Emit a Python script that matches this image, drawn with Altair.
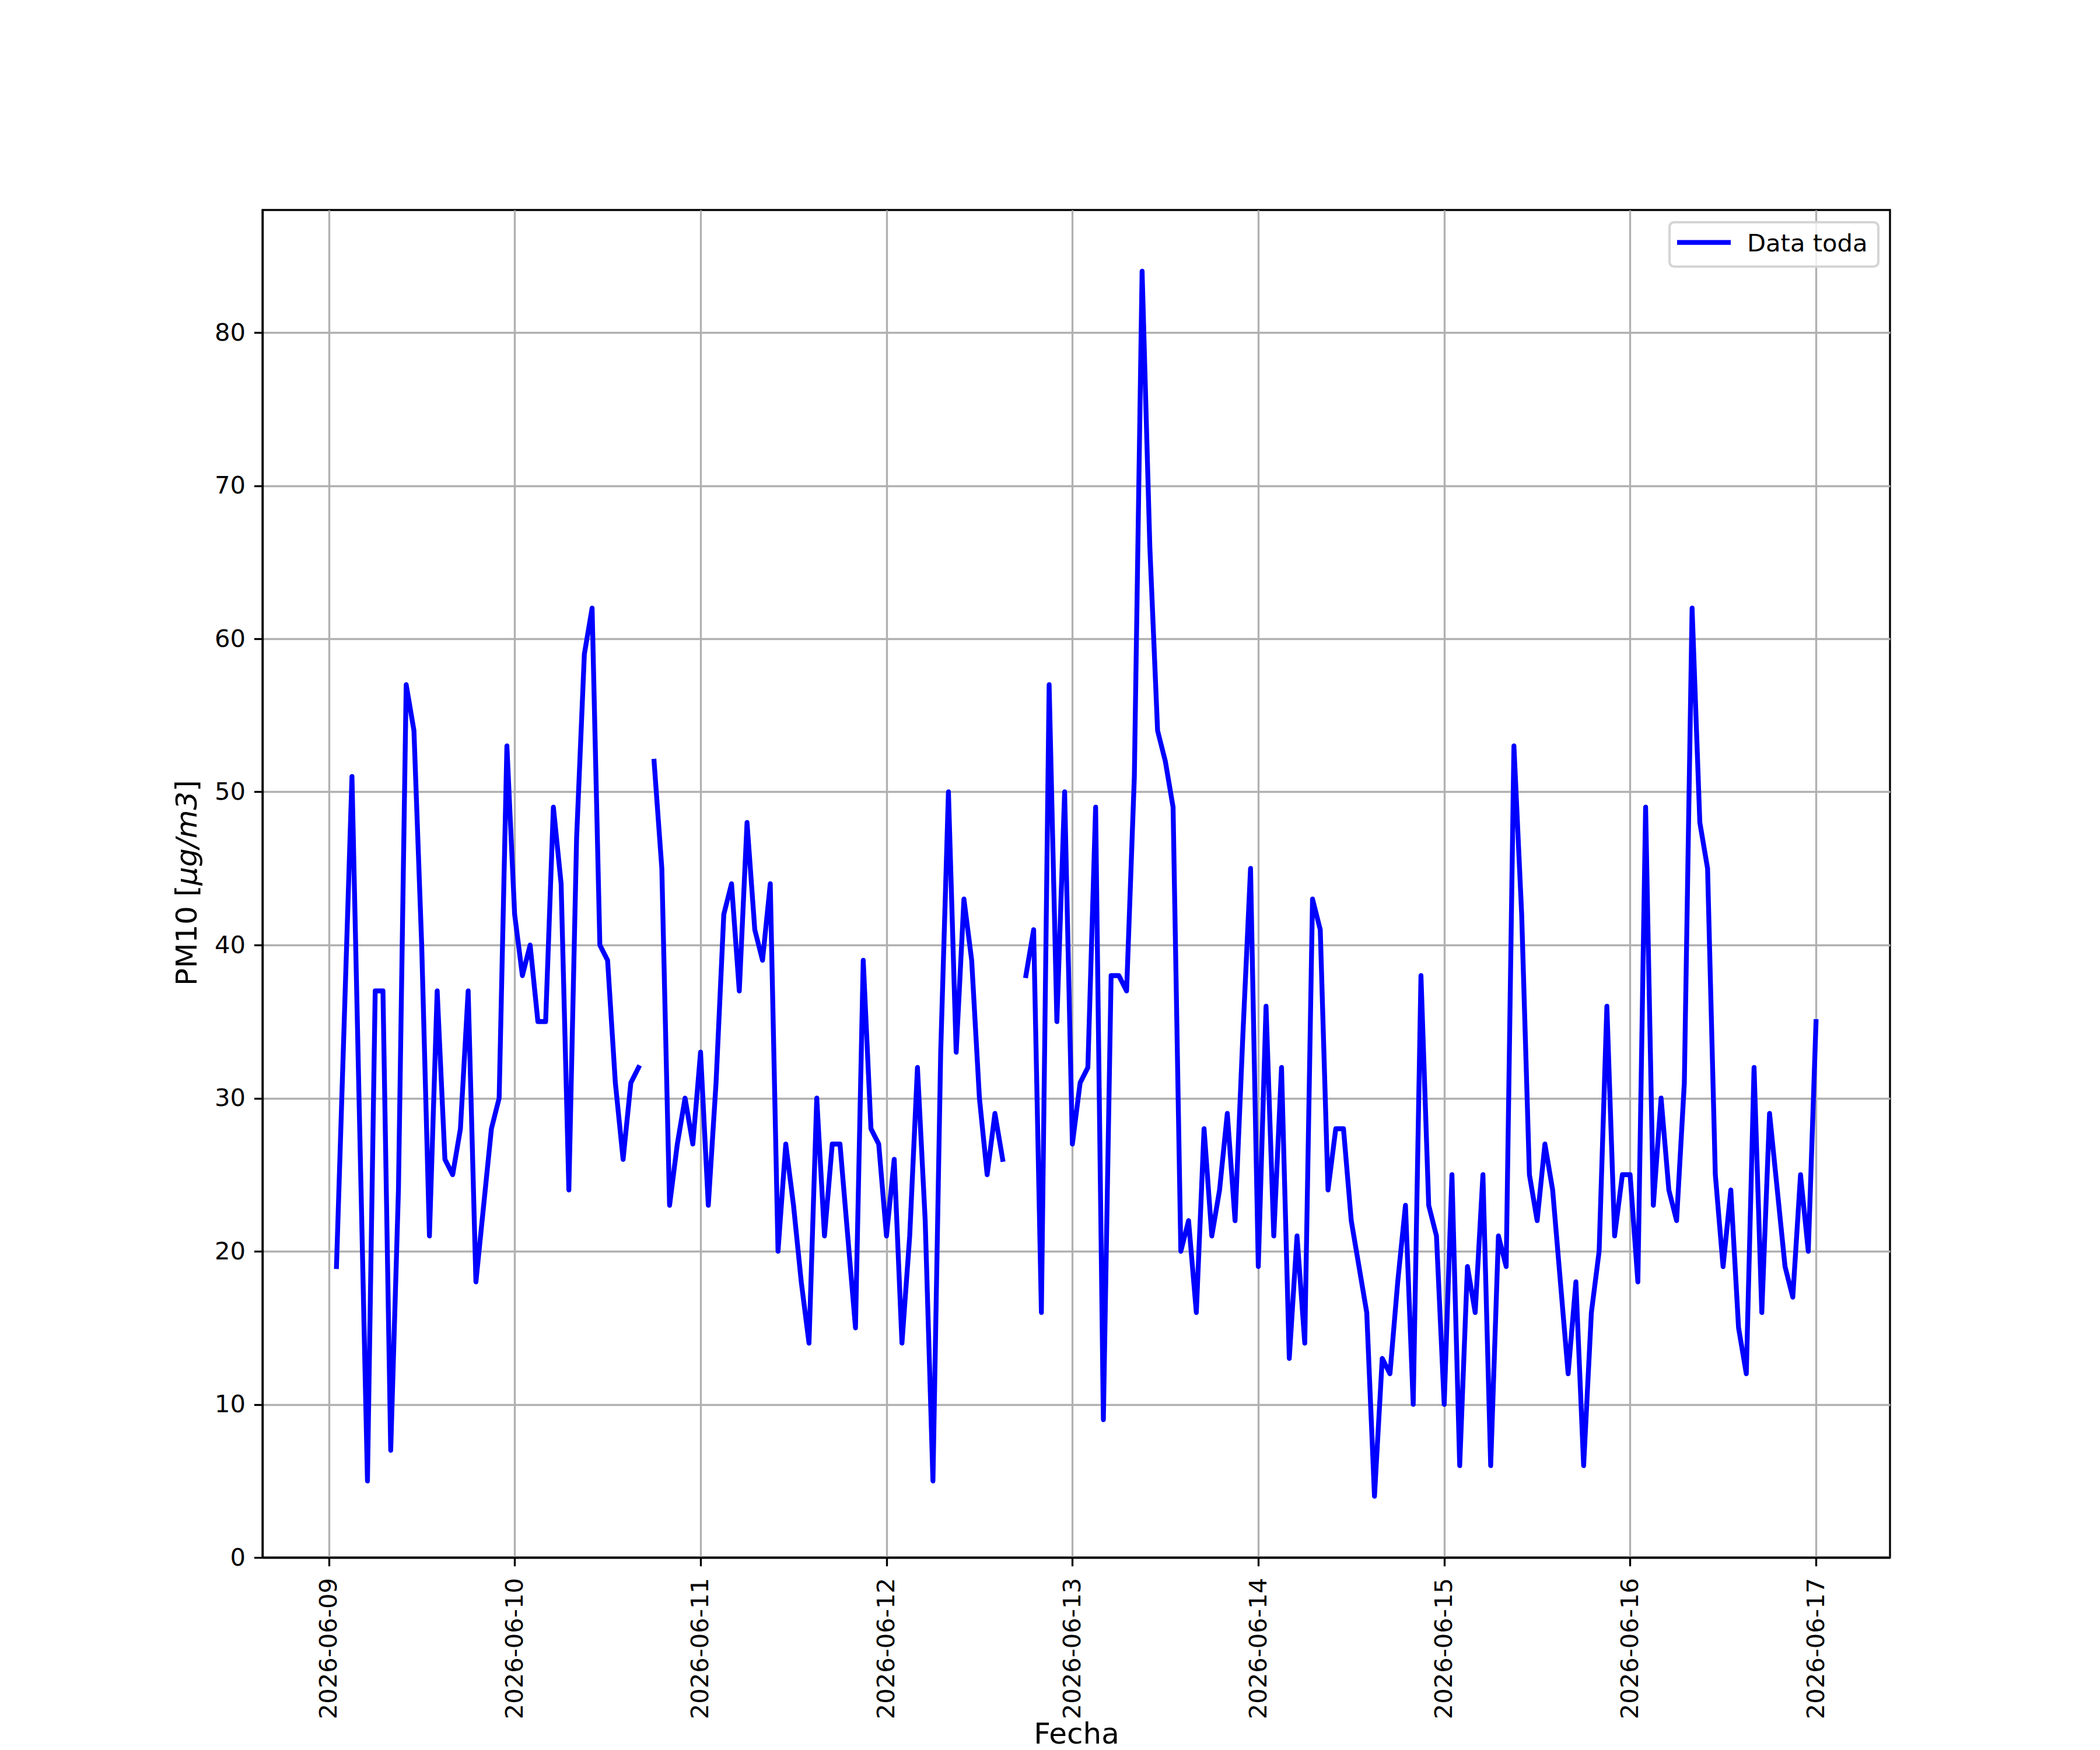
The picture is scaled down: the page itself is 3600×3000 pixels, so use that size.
import altair as alt
import pandas as pd

# ---- data (hourly PM10) ----
day_0609 = [19, 35, 51, 28, 5, 37, 37, 7, 24, 57, 54, 40, 21, 37, 26, 25, 28, 37, 18, 23, 28, 30, 53]  # 01h-23h
day_0610 = [42, 38, 40, 35, 35, 49, 44, 24, 47, 59, 62, 40, 39, 31, 26, 31, 32, None, 52, 45, 23, 27, 30, 27]
day_0611 = [33, 23, 31, 42, 44, 37, 48, 41, 39, 44, 20, 27, 23, 18, 14, 30, 21, 27, 27, 21, 15, 39, 28, 27]
day_0612 = [21, 26, 14, 21, 32, 22, 5, 33, 50, 33, 43, 39, 30, 25, 29, 26, None, None, 38, 41, 16, 57, 35, 50]
day_0613 = [27, 31, 32, 49, 9, 38, 38, 37, 51, 84, 66, 54, 52, 49, 20, 22, 16, 28, 21, 24, 29, 22, 34, 45]
day_0614 = [19, 36, 21, 32, 13, 21, 14, 43, 41, 24, 28, 28, 22, 19, 16, 4, 13, 12, 18, 23, 10, 38, 23, 21]
day_0615 = [10, 25, 6, 19, 16, 25, 6, 21, 19, 53, 42, 25, 22, 27, 24, 18, 12, 18, 6, 16, 20, 36, 21, 25]
day_0616 = [25, 18, 49, 23, 30, 24, 22, 31, 62, 48, 45, 25, 19, 24, 15, 12, 32, 16, 29, 24, 19, 17, 25, 20]
day_0617 = [35]  # 00h

values = day_0609 + day_0610 + day_0611 + day_0612 + day_0613 + day_0614 + day_0615 + day_0616 + day_0617
times = pd.date_range("2026-06-09 01:00", "2026-06-17 00:00", freq="h").strftime("%Y-%m-%dT%H:%M:%SZ")

tick_days = [9, 10, 11, 12, 13, 14, 15, 16, 17]
y_ticks = [0, 10, 20, 30, 40, 50, 60, 70, 80]
legend_label = "Data toda"
x_title = "Fecha"
y_title_parts = ["PM10 [", "μg/m3", "]"]

df = pd.DataFrame({"fecha": list(times), "pm10": values})

# ---- styling ----
W, H = 2790, 2310
FONT = "DejaVu Sans"
TICK_FS = 41.67
LABEL_FS = 50
LW = 3.33
BLUE = "#0000ff"
GRID = "#b0b0b0"

x_domain = [
    alt.DateTime(year=2026, month=6, date=8, hours=15, minutes=27, utc=True),
    alt.DateTime(year=2026, month=6, date=17, hours=9, minutes=33, utc=True),
]

line = alt.Chart(df).mark_line(
    color=BLUE, strokeWidth=8.33, strokeJoin="round", strokeCap="square",
    invalid="break-paths-show-domains",
).encode(
    x=alt.X(
        "fecha:T",
        scale=alt.Scale(type="utc", domain=x_domain, nice=False),
        axis=alt.Axis(
            values=[alt.DateTime(year=2026, month=6, date=d, utc=True) for d in tick_days],
            labelExpr="utcFormat(datum.value, '%Y-%m-%d')",
            labelAngle=270, labelAlign="right", labelBaseline="middle",
            labelFont=FONT, labelFontSize=TICK_FS, labelColor="black",
            labelPadding=20, labelOverlap=False, labelFlush=False, labelLimit=0,
            tickSize=14.6, tickWidth=LW, tickColor="black",
            domain=True, domainColor="black", domainWidth=LW,
            grid=True, gridColor=GRID, gridWidth=LW,
            title=x_title, titleFont=FONT, titleFontSize=LABEL_FS,
            titleFontWeight="normal", titleColor="black",
            titleBaseline="alphabetic", titleY=318,
        ),
    ),
    y=alt.Y(
        "pm10:Q",
        scale=alt.Scale(domain=[0, 88], nice=False, zero=False),
        axis=alt.Axis(
            values=y_ticks,
            labelFont=FONT, labelFontSize=TICK_FS, labelColor="black",
            labelPadding=15, labelOverlap=False, labelFlush=False,
            tickSize=14.6, tickWidth=LW, tickColor="black",
            domain=True, domainColor="black", domainWidth=LW,
            grid=True, gridColor=GRID, gridWidth=LW,
            title=None,
        ),
    ),
)

# ---- y axis title (with the italic unit) ----
ytitle_layers = []
y_anchor = [1330, 1157.7, 996.8]
styles = ["normal", "italic", "normal"]
for part, ya, st in zip(y_title_parts, y_anchor, styles):
    ytitle_layers.append(
        alt.Chart(pd.DataFrame({"t": [part]})).mark_text(
            font=FONT, fontSize=LABEL_FS, fontStyle=st, angle=270,
            align="left", baseline="alphabetic", color="black",
        ).encode(x=alt.value(-113), y=alt.value(ya), text="t:N")
    )

# ---- legend (matplotlib style, upper right) ----
leg_df = pd.DataFrame({"label": [legend_label]})
leg_frame = alt.Chart(leg_df).mark_rect(
    fill="white", fillOpacity=0.8, stroke="#d5d5d5", strokeWidth=4.17, cornerRadius=8,
).encode(x=alt.value(2412), x2=alt.value(2770), y=alt.value(21), y2=alt.value(97))
leg_sym = alt.Chart(leg_df).mark_rule(color=BLUE, strokeWidth=8.33).encode(
    x=alt.value(2425), x2=alt.value(2517), y=alt.value(55.7)
)
leg_txt = alt.Chart(leg_df).mark_text(
    font=FONT, fontSize=TICK_FS, align="left", baseline="alphabetic", color="black"
).encode(x=alt.value(2545), y=alt.value(71), text="label:N")

chart = alt.layer(line, *ytitle_layers, leg_frame, leg_sym, leg_txt).properties(
    width=W, height=H,
    autosize=alt.AutoSizeParams(type="none"),
    padding={"left": 442, "top": 352, "right": 352, "bottom": 330},
    background="white",
).configure_view(stroke="black", strokeWidth=LW)

chart.save("out.html", embed_options={"renderer": "svg", "actions": False})
